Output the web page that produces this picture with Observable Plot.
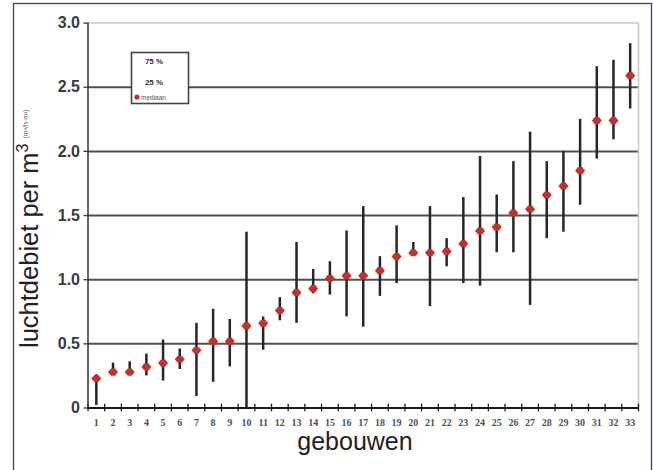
<!DOCTYPE html>
<html>
<head>
<meta charset="utf-8">
<script src="https://cdn.jsdelivr.net/npm/d3@7"></script>
<script src="https://cdn.jsdelivr.net/npm/@observablehq/plot@0.6"></script>
<style>
  html, body { margin: 0; padding: 0; background: #fff; }
  #chart { width: 653px; height: 470px; overflow: hidden; }
  svg { display: block; }
</style>
</head>
<body>
<div id="chart"></div>
<script>
// Buildings (categories)
const buildings = [1,2,3,4,5,6,7,8,9,10,11,12,13,14,15,16,17,18,19,20,21,22,23,24,25,26,27,28,29,30,31,32,33];
const tickLabels = ["1","2","3","4","5","6","7","8","9","10","11","12","13","14","15","16","17","18","19","20","21","22","23","24","25","26","27","28","29","30","31","32","33"];
// 25 % percentile
const q25 = [0.02,0.26,0.26,0.25,0.21,0.30,0.09,0.20,0.32,0.00,0.45,0.68,0.66,0.89,0.88,0.71,0.63,0.87,0.97,1.19,0.79,1.10,0.97,0.95,1.21,1.21,0.80,1.32,1.37,1.58,1.94,2.09,2.33];
// median
const median = [0.23,0.28,0.28,0.32,0.35,0.38,0.45,0.52,0.52,0.64,0.66,0.76,0.90,0.93,1.01,1.03,1.03,1.07,1.18,1.21,1.21,1.22,1.28,1.38,1.41,1.52,1.55,1.66,1.73,1.85,2.24,2.24,2.59];
// 75 % percentile
const q75 = [0.26,0.35,0.36,0.42,0.53,0.46,0.66,0.77,0.69,1.37,0.71,0.86,1.29,1.08,1.14,1.38,1.57,1.18,1.42,1.29,1.57,1.32,1.64,1.96,1.66,1.92,2.15,1.92,2.00,2.25,2.66,2.71,2.84];
const yTicks = [0, 0.5, 1.0, 1.5, 2.0, 2.5, 3.0];
const yTickLabels = ["0", "0.5", "1.0", "1.5", "2.0", "2.5", "3.0"];
const legendLabels = ["75 %", "25 %", "mediaan"];

const data = buildings.map((b, i) => ({b, q25: q25[i], med: median[i], q75: q75[i]}));
const boundaries = [buildings[0] - 0.5, ...buildings.map(b => b + 0.5)];

// wide, flat diamond marker (like the blurred Excel marker)
const wideMarker = {
  draw(context, size) {
    const w = 5, h = 3.6, c = 2;
    context.moveTo(-w, 0);
    context.lineTo(-c, -h);
    context.lineTo(c, -h);
    context.lineTo(w, 0);
    context.lineTo(c, h);
    context.lineTo(-c, h);
    context.closePath();
  }
};

const W = 653, H = 470;
const mL = 87.5, mR = 15, mT = 22.6, mB = 62.5;

const chart = Plot.plot({
  width: W, height: H,
  marginLeft: mL, marginRight: mR, marginTop: mT, marginBottom: mB,
  style: {background: "transparent", fontFamily: "Liberation Sans, Arial, sans-serif"},
  x: {domain: [0.5, 33.5], axis: null},
  y: {domain: [0, 3], axis: null},
  marks: [
    Plot.ruleY(yTicks.filter(d => d > 0 && d < 3), {stroke: "#505050", strokeWidth: 2}),
    Plot.ruleY([3], {stroke: "#c8c8c8", strokeWidth: 1.5}),
    Plot.ruleX([33.5], {y1: 0, y2: 3, stroke: "#c8c8c8", strokeWidth: 1.5}),
    Plot.ruleX(data, {x: "b", y1: "q25", y2: "q75", stroke: "#262626", strokeWidth: 2.5}),
    Plot.dot(data, {x: "b", y: "med", symbol: wideMarker, r: 4, fill: "#c4312b"}),
    Plot.ruleY([0], {stroke: "#1a1a1a", strokeWidth: 2}),
    Plot.ruleX(boundaries, {y1: -0.03, y2: 0.03, stroke: "#1a1a1a", strokeWidth: 1.3}),
    Plot.ruleX([0.5], {y1: 0, y2: 3, stroke: "#333", strokeWidth: 1.5}),
    Plot.axisY({ticks: yTicks, tickFormat: d => yTickLabels[yTicks.indexOf(d)], tickSize: 4, tickPadding: 4,
      fontSize: 16, fontWeight: "bold", color: "#3a3a3a", strokeWidth: 1.3, label: null}),
    Plot.axisX({ticks: buildings, tickFormat: d => tickLabels[buildings.indexOf(d)], tickSize: 0, tickPadding: 11,
      fontSize: 10, fontWeight: "bold", fontFamily: "Liberation Serif, serif", color: "#505050", label: null})
  ]
});

document.getElementById("chart").appendChild(chart);

const svg = d3.select(chart);

// outer frame
svg.append("rect").attr("x", 13.5).attr("y", 3.5).attr("width", 638).attr("height", 480)
  .attr("fill", "none").attr("stroke", "#2b4866").attr("stroke-width", 1.3);

// x title
svg.append("text").attr("x", 355).attr("y", 450).attr("text-anchor", "middle")
  .attr("font-size", 25).attr("fill", "#222").text("gebouwen");

// y title
const yt = svg.append("text").attr("transform", "translate(38,348) rotate(-90)")
  .attr("text-anchor", "start").attr("font-size", 25.5).attr("fill", "#222");
yt.append("tspan").text("luchtdebiet per m");
yt.append("tspan").attr("font-size", 16).attr("dy", -10).text("3");
yt.append("tspan").attr("font-size", 7).attr("dx", 5).attr("dy", 0).attr("fill", "#555").text("(m³/h·m³)");

// legend
const lg = svg.append("g");
lg.append("rect").attr("x", 131.5).attr("y", 52.5).attr("width", 57).attr("height", 51)
  .attr("fill", "#fff").attr("stroke", "#444").attr("stroke-width", 1.6);
lg.append("text").attr("x", 154).attr("y", 64).attr("text-anchor", "middle").attr("font-size", 8)
  .attr("font-weight", "bold").attr("fill", "#333").text(legendLabels[0]);
lg.append("text").attr("x", 154).attr("y", 85).attr("text-anchor", "middle").attr("font-size", 8)
  .attr("font-weight", "bold").attr("fill", "#333").text(legendLabels[1]);
lg.append("circle").attr("cx", 137).attr("cy", 97).attr("r", 2.6).attr("fill", "#c4312b");
lg.append("text").attr("x", 141).attr("y", 100).attr("text-anchor", "start").attr("font-size", 6.5)
  .attr("fill", "#555").text(legendLabels[2]);
</script>
</body>
</html>
